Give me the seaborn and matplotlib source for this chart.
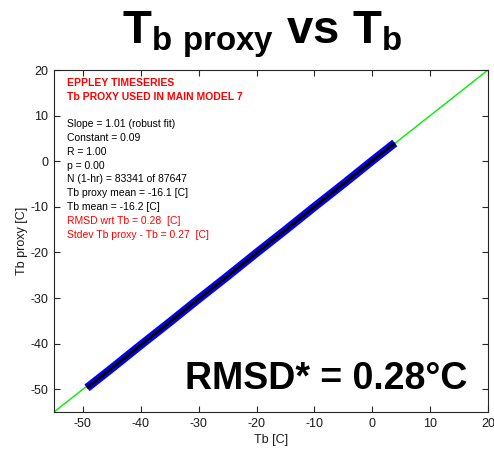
import numpy as np
import pandas as pd
import matplotlib
matplotlib.use('Agg')
import matplotlib.pyplot as plt
import seaborn as sns

# Data
tb = [-49.3, -45, -40, -35, -30, -25, -20, -15, -10, -5, 0, 3.9]
tb_proxy = [-49.7, -45.4, -40.3, -35.3, -30.2, -25.2, -20.1, -15.1, -10.0, -5.0, 0.1, 4.0]
one_to_one = [-55, 20]
xticks = [-50, -40, -30, -20, -10, 0, 10, 20]
yticks = [-50, -40, -30, -20, -10, 0, 10, 20]

header_lines = ['EPPLEY TIMESERIES', 'Tb PROXY USED IN MAIN MODEL 7']
stat_lines = ['Slope = 1.01 (robust fit)', 'Constant = 0.09', 'R = 1.00', 'p = 0.00',
              'N (1-hr) = 83341 of 87647', 'Tb proxy mean = -16.1 [C]', 'Tb mean = -16.2 [C]']
rmsd_lines = ['RMSD wrt Tb = 0.28  [C]', 'Stdev Tb proxy - Tb = 0.27  [C]']

sns.set_style('ticks')
plt.rcParams['font.family'] = ['Liberation Sans', 'DejaVu Sans']
plt.rcParams['text.color'] = 'black'
plt.rcParams['axes.labelcolor'] = '#1a1a1a'
plt.rcParams['axes.unicode_minus'] = False
plt.rcParams['mathtext.fontset'] = 'custom'
plt.rcParams['mathtext.rm'] = 'Liberation Sans'
plt.rcParams['mathtext.bf'] = 'Liberation Sans:bold'

df = pd.DataFrame({'tb': tb, 'proxy': tb_proxy})
ref = pd.DataFrame({'x': one_to_one, 'y': one_to_one})

fig = plt.figure(figsize=(4.94, 4.5), dpi=100)
ax = fig.add_axes([0.1093, 0.0844, 0.8785, 0.76])

sns.lineplot(data=ref, x='x', y='y', color='#00ee00', linewidth=1.0, ax=ax)
sns.lineplot(data=df, x='tb', y='proxy', color='#0000ff', linewidth=6, ax=ax,
             solid_capstyle='butt')
sns.lineplot(data=df, x='tb', y='proxy', color='black', linewidth=2.2, ax=ax,
             solid_capstyle='butt')

ax.set_xlim(-55, 20)
ax.set_ylim(-55, 20)
ax.set_xticks(xticks)
ax.set_yticks(yticks)
ax.tick_params(direction='in', top=True, right=True, length=4, width=0.8,
               labelsize=9, colors='#262626', labelcolor='#1a1a1a', pad=4)
for s in ax.spines.values():
    s.set_color('#262626')
    s.set_linewidth(0.8)
ax.set_xlabel('Tb [C]', fontsize=9, labelpad=3)
ax.set_ylabel('Tb proxy [C]', fontsize=9, labelpad=2)

# annotation block
y0 = 83
for i, t in enumerate(header_lines):
    fig.text(67 / 494, 1 - (y0 + i * 13.5) / 450, t, color='red', fontsize=7.5,
             fontweight='bold', va='center', ha='left')
y1 = 124
for i, t in enumerate(stat_lines + rmsd_lines):
    c = 'black' if i < len(stat_lines) else 'red'
    fig.text(67 / 494, 1 - (y1 + i * 13.85) / 450, t, color=c, fontsize=7.5,
             va='center', ha='left')

fig.text(467 / 494, 1 - 389 / 450, 'RMSD* = 0.28\u00b0C', fontsize=27,
         fontweight='bold', ha='right', va='baseline')

fig.text(0.531, 1 - 43 / 450,
         r'$\mathbf{T}_{\mathbf{b\ proxy}}$ vs $\mathbf{T}_{\mathbf{b}}$',
         fontsize=34, fontweight='bold', ha='center', va='baseline')

fig.savefig('out.png', dpi=100)
